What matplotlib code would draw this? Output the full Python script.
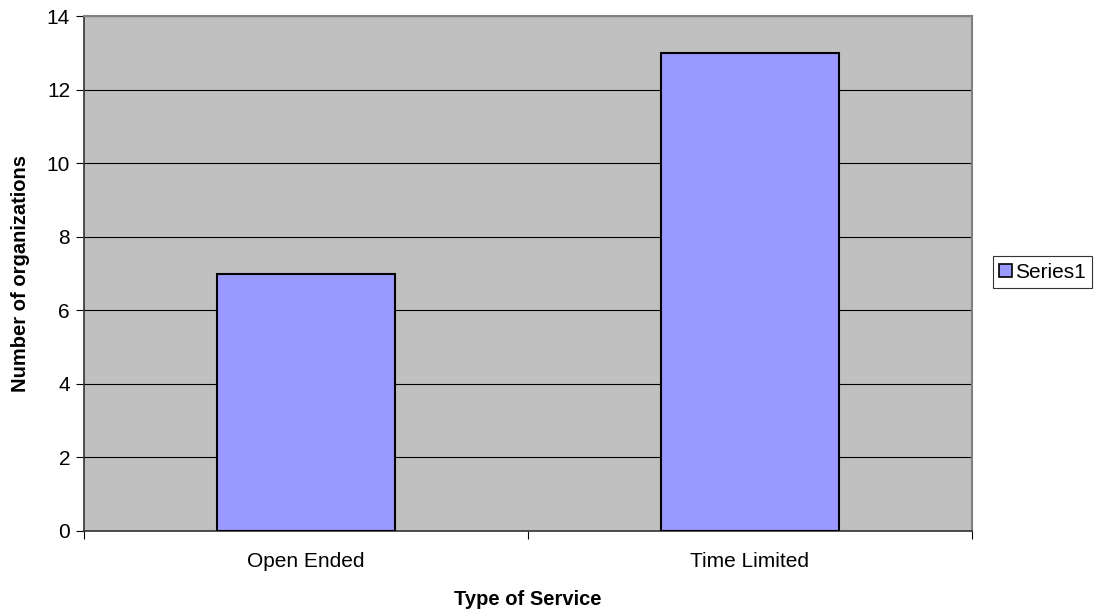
import matplotlib
matplotlib.use("Agg")
import matplotlib.pyplot as plt
from matplotlib.patches import Patch

categories = ["Open Ended", "Time Limited"]
values = [7, 13]
y_ticks = [0, 2, 4, 6, 8, 10, 12, 14]

plt.rcParams["font.family"] = ["Liberation Sans", "DejaVu Sans"]

fig = plt.figure(figsize=(10.99, 6.13), dpi=100)
ax = fig.add_axes([84 / 1099, 1 - 531 / 613, (972 - 84) / 1099, (531 - 16) / 613])
ax.set_facecolor("#C0C0C0")

x = list(range(len(categories)))
ax.bar(x, values, width=0.4, color="#9999FF", edgecolor="black", linewidth=1.5, zorder=3)

ax.set_xlim(-0.5, len(categories) - 0.5)
ax.set_ylim(0, 14)
ax.set_yticks(y_ticks)
ax.yaxis.grid(True, color="black", linewidth=0.8, zorder=1)
ax.set_axisbelow(True)

# category boundaries carry the tick marks, labels sit in the middle
ax.set_xticks([-0.5 + i for i in range(len(categories) + 1)])
ax.set_xticklabels([])
ax.set_xticks(x, minor=True)
ax.set_xticklabels(categories, minor=True)
ax.tick_params(axis="x", which="minor", length=0, pad=15, labelsize=15)
ax.tick_params(axis="x", which="major", length=6, direction="out", width=0.8)
ax.tick_params(axis="y", length=6, direction="out", width=0.8, labelsize=15, pad=4)

for side in ("top", "right"):
    ax.spines[side].set_color("#808080")
    ax.spines[side].set_linewidth(1.5)
for side in ("left", "bottom"):
    ax.spines[side].set_color("#333333")
    ax.spines[side].set_linewidth(1.2)

ax.set_xlabel("Type of Service", fontsize=14.5, fontweight="bold", labelpad=14)
ax.set_ylabel("Number of organizations", fontsize=14.5, fontweight="bold", labelpad=12)

handle = Patch(facecolor="#9999FF", edgecolor="black", linewidth=1.2)
leg = fig.legend([handle], ["Series1"], loc="center left",
                 bbox_to_anchor=(993 / 1099, 1 - 272 / 613), fontsize=15,
                 frameon=True, fancybox=False, edgecolor="black",
                 handlelength=0.6, handleheight=0.6, handletextpad=0.15,
                 borderpad=0.3, borderaxespad=0)
leg.get_frame().set_linewidth(0.8)

fig.savefig("out.png", dpi=100)
